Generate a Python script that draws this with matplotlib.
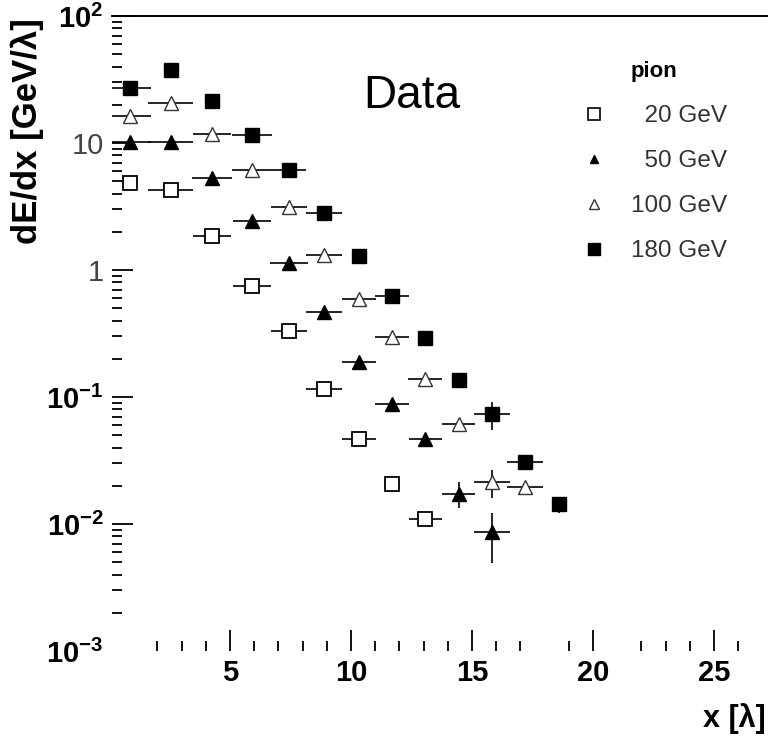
import numpy as np
import matplotlib
matplotlib.use("Agg")
import matplotlib.pyplot as plt
from matplotlib.lines import Line2D
from matplotlib.ticker import FixedLocator, LogLocator, NullFormatter

plt.rcParams['font.family'] = ['Liberation Sans', 'DejaVu Sans']
plt.rcParams['mathtext.fontset'] = 'custom'
plt.rcParams['mathtext.rm'] = 'Liberation Sans'
plt.rcParams['mathtext.bf'] = 'Liberation Sans:bold'

# depth of each calorimeter segment, in interaction lengths
depth = [0.87, 2.56, 4.26, 5.91, 7.44, 8.88, 10.33, 11.69, 13.06, 14.46, 15.83, 17.19, 18.6]

# dE/dx [GeV/lambda] per beam energy
e20 = [4.84, 4.27, 1.85, 0.748, 0.331, 0.116, 0.0467, 0.0207, 0.0109]
e50 = [10.2, 10.2, 5.30, 2.43, 1.14, 0.467, 0.189, 0.0881, 0.0467, 0.0172, 0.00865]
e100 = [16.3, 20.7, 11.8, 6.12, 3.13, 1.31, 0.591, 0.296, 0.139, 0.0612, 0.0214, 0.0195]
e180 = [27.1, 37.6, 21.4, 11.6, 6.12, 2.81, 1.29, 0.624, 0.292, 0.136, 0.0734, 0.0308, 0.0144]

# half bin widths (0 where no bar is drawn)
xerr20 = [0, 0.93, 0.8, 0.8, 0.76, 0.76, 0.72, 0, 0.68]
xerr50 = [0.85, 0.93, 0.83, 0.8, 0.78, 0.76, 0.72, 0.7, 0.68, 0.68, 0.74]
xerr100 = [0.85, 0.93, 0.8, 0.83, 0.76, 0.76, 0.72, 0.7, 0.7, 0.68, 0.73, 0.73]
xerr180 = [0.87, 0, 0, 0.83, 0.72, 0.74, 0, 0.7, 0, 0, 0.73, 0.74, 0]

# vertical errors (low, high)
ylo20 = [0] * 9
yhi20 = [0] * 9
ylo50 = [0] * 9 + [0.0038, 0.0037]
yhi50 = [0] * 9 + [0.0042, 0.0036]
ylo100 = [0] * 10 + [0.0054, 0]
yhi100 = [0] * 10 + [0.0052, 0]
ylo180 = [0] * 10 + [0.018, 0, 0.0022]
yhi180 = [0] * 10 + [0.018, 0, 0]

labels = ['  20 GeV', '  50 GeV', '100 GeV', '180 GeV']

xticks_major = [5, 10, 15, 20, 25]
xticks_minor = [2, 3, 4, 6, 7, 8, 9, 11, 12, 13, 14, 16, 17, 19, 22, 23, 24, 26]
yticks = [1e-3, 1e-2, 1e-1, 1, 10, 100]
ytick_labels = [r'$\mathbf{10^{-3}}$', r'$\mathbf{10^{-2}}$', r'$\mathbf{10^{-1}}$', '1', '10', r'$\mathbf{10^{2}}$']

fig = plt.figure(figsize=(7.68, 7.38), dpi=100)
ax = fig.add_axes([112 / 768, 87 / 738, 656 / 768, 635 / 738])

series = [
    (e20, xerr20, ylo20, yhi20, dict(marker='s', ms=10.5, mfc='white', mec='black', mew=1.3)),
    (e50, xerr50, ylo50, yhi50, dict(marker='^', ms=9.5, mfc='black', mec='black', mew=1.0)),
    (e100, xerr100, ylo100, yhi100, dict(marker='^', ms=10.5, mfc='white', mec='#333333', mew=1.0)),
    (e180, xerr180, ylo180, yhi180, dict(marker='s', ms=10.5, mfc='black', mec='black', mew=1.0)),
]
for vals, xe, ylo, yhi, st in series:
    x = depth[:len(vals)]
    ax.errorbar(x, vals, xerr=xe, yerr=[ylo, yhi], fmt='none', ecolor='black',
                elinewidth=1.2, capsize=0, zorder=2)
    ax.plot(x, vals, ls='none', zorder=3, **st)

ax.set_yscale('log')
ax.set_ylim(1e-3, 1e2)
ax.set_xlim(0.124, 27.23)

ax.set_xticks(xticks_major)
ax.set_xticklabels([str(v) for v in xticks_major], fontweight='bold')
ax.xaxis.set_minor_locator(FixedLocator(xticks_minor))
ax.set_yticks(yticks)
ax.set_yticklabels(ytick_labels)
ax.yaxis.set_minor_locator(LogLocator(base=10, subs=np.arange(2, 10)))
ax.yaxis.set_minor_formatter(NullFormatter())
for t in ax.get_yticklabels():
    if t.get_text() in ('1', '10'):
        t.set_color('#444444')

ax.tick_params(which='major', direction='in', length=15, width=1.3, labelsize=21, pad=6,
               top=False, right=False)
ax.tick_params(which='minor', direction='in', length=7, width=1.3, top=False, right=False)
ax.yaxis.get_major_ticks()[0].tick1line.set_visible(False)

for s in ['left', 'bottom', 'right']:
    ax.spines[s].set_visible(False)
ax.spines['top'].set_linewidth(1.4)

fig.text(11 / 768, 1 - 18 / 738, r'dE/dx [GeV/λ]', rotation=90, ha='left', va='top',
         fontsize=25, fontweight='bold')
fig.text(766 / 768, 1 - 727 / 738, 'x [λ]', ha='right', va='baseline',
         fontsize=22, fontweight='bold')
fig.text(363 / 768, 1 - 108 / 738, 'Data', ha='left', va='baseline', fontsize=33)

handles = [
    Line2D([], [], ls='none', marker='s', ms=8, mfc='white', mec='black', mew=1.2),
    Line2D([], [], ls='none', marker='^', ms=6, mfc='black', mec='black'),
    Line2D([], [], ls='none', marker='^', ms=6.5, mfc='white', mec='#333333', mew=1.0),
    Line2D([], [], ls='none', marker='s', ms=8, mfc='black', mec='black'),
]
leg = ax.legend(handles, labels, title='pion', frameon=False, fontsize=17.5,
                title_fontproperties={'weight': 'bold', 'size': 16},
                loc='upper left', bbox_to_anchor=(582 / 768, 1 - 61 / 738),
                bbox_transform=fig.transFigure, borderpad=0, borderaxespad=0,
                handlelength=0.95, handletextpad=1.05, labelspacing=0.95)
for t in leg.get_texts():
    t.set_color('#333333')

fig.savefig('out.png', dpi=100)
